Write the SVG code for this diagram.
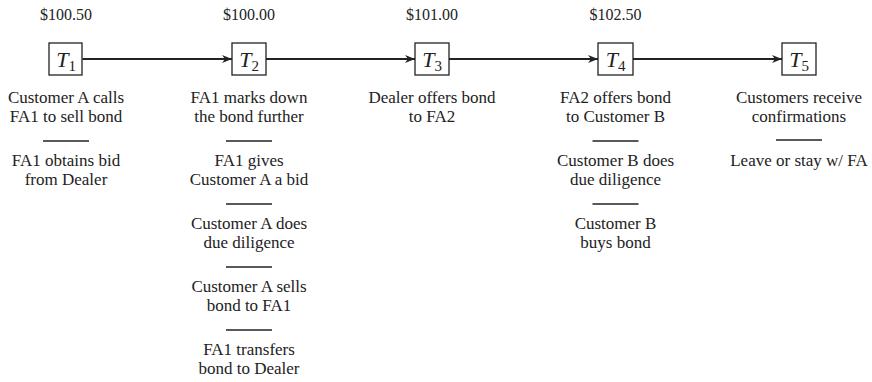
<svg xmlns="http://www.w3.org/2000/svg" width="872" height="382" viewBox="0 0 872 382">
<style>
text{font-family:"Liberation Serif","Times New Roman",serif;fill:#222;}
.price{font-size:16px;text-anchor:middle;}
.lbl{font-size:17px;text-anchor:middle;}
.tn{font-size:22px;text-anchor:middle;}
.box{fill:#fff;stroke:#222;stroke-width:1.3;}
.sep{stroke:#222;stroke-width:1.3;}
.conn{stroke:#222;stroke-width:2;fill:none;marker-end:url(#ah);}
</style>
<defs>
<marker id="ah" viewBox="0 0 10 10" refX="10" refY="5" markerWidth="5" markerHeight="5" orient="auto" markerUnits="strokeWidth">
<path d="M0,1 L10,5 L0,9 L3,5 Z" fill="#222"/>
</marker>
</defs>
<rect width="872" height="382" fill="#fff"/>
<g id="connectors">
<line class="conn" x1="82.5" y1="59" x2="232" y2="59"/>
<line class="conn" x1="266" y1="59" x2="415" y2="59"/>
<line class="conn" x1="449" y1="59" x2="598" y2="59"/>
<line class="conn" x1="633" y1="59" x2="782" y2="59"/>
</g>
<g id="T1">
<text class="price" x="66" y="20">$100.50</text>
<rect class="box" x="49" y="43" width="33" height="32"/>
<text class="tn" x="66" y="67"><tspan font-style="italic">T</tspan><tspan font-size="15" dy="4">1</tspan></text>
<text class="lbl" x="66" y="103">Customer A calls</text>
<text class="lbl" x="66" y="122">FA1 to sell bond</text>
<line class="sep" x1="43" y1="141" x2="89" y2="141"/>
<text class="lbl" x="66" y="166">FA1 obtains bid</text>
<text class="lbl" x="66" y="185">from Dealer</text>
</g>
<g id="T2">
<text class="price" x="249" y="20">$100.00</text>
<rect class="box" x="232" y="43" width="34" height="32"/>
<text class="tn" x="249" y="67"><tspan font-style="italic">T</tspan><tspan font-size="15" dy="4">2</tspan></text>
<text class="lbl" x="249" y="103">FA1 marks down</text>
<text class="lbl" x="249" y="122">the bond further</text>
<line class="sep" x1="226" y1="141" x2="272" y2="141"/>
<text class="lbl" x="249" y="166">FA1 gives</text>
<text class="lbl" x="249" y="185">Customer A a bid</text>
<line class="sep" x1="226" y1="204" x2="272" y2="204"/>
<text class="lbl" x="249" y="229">Customer A does</text>
<text class="lbl" x="249" y="248">due diligence</text>
<line class="sep" x1="226" y1="267" x2="272" y2="267"/>
<text class="lbl" x="249" y="292">Customer A sells</text>
<text class="lbl" x="249" y="311">bond to FA1</text>
<line class="sep" x1="226" y1="330" x2="272" y2="330"/>
<text class="lbl" x="249" y="355">FA1 transfers</text>
<text class="lbl" x="249" y="374">bond to Dealer</text>
</g>
<g id="T3">
<text class="price" x="432" y="20">$101.00</text>
<rect class="box" x="415" y="43" width="34" height="32"/>
<text class="tn" x="432" y="67"><tspan font-style="italic">T</tspan><tspan font-size="15" dy="4">3</tspan></text>
<text class="lbl" x="432" y="103">Dealer offers bond</text>
<text class="lbl" x="432" y="122">to FA2</text>
</g>
<g id="T4">
<text class="price" x="615.5" y="20">$102.50</text>
<rect class="box" x="598" y="43" width="35" height="32"/>
<text class="tn" x="615.5" y="67"><tspan font-style="italic">T</tspan><tspan font-size="15" dy="4">4</tspan></text>
<text class="lbl" x="615.5" y="103">FA2 offers bond</text>
<text class="lbl" x="615.5" y="122">to Customer B</text>
<line class="sep" x1="592.5" y1="141" x2="638.5" y2="141"/>
<text class="lbl" x="615.5" y="166">Customer B does</text>
<text class="lbl" x="615.5" y="185">due diligence</text>
<line class="sep" x1="592.5" y1="204" x2="638.5" y2="204"/>
<text class="lbl" x="615.5" y="229">Customer B</text>
<text class="lbl" x="615.5" y="248">buys bond</text>
</g>
<g id="T5">
<rect class="box" x="782" y="43" width="34" height="32"/>
<text class="tn" x="799" y="67"><tspan font-style="italic">T</tspan><tspan font-size="15" dy="4">5</tspan></text>
<text class="lbl" x="799" y="103">Customers receive</text>
<text class="lbl" x="799" y="122">confirmations</text>
<line class="sep" x1="776" y1="140" x2="822" y2="140"/>
<text class="lbl" x="799" y="166">Leave or stay w/ FA</text>
</g>
</svg>
